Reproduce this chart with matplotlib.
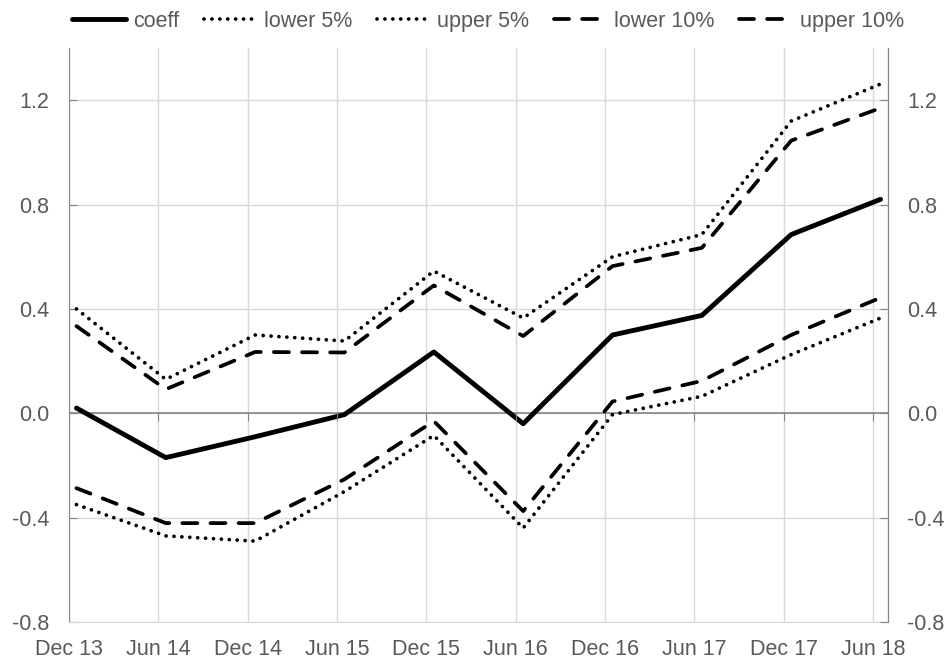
import matplotlib.pyplot as plt
from matplotlib.ticker import FixedLocator

plt.rcParams['font.family'] = ['Liberation Sans', 'DejaVu Sans']

# data
periods = ['Dec 13', 'Jun 14', 'Dec 14', 'Jun 15', 'Dec 15',
           'Jun 16', 'Dec 16', 'Jun 17', 'Dec 17', 'Jun 18']
coeff = [0.02, -0.17, -0.09, -0.005, 0.235, -0.04, 0.30, 0.375, 0.685, 0.82]
lower_5 = [-0.35, -0.47, -0.49, -0.30, -0.085, -0.44, -0.005, 0.065, 0.225, 0.365]
upper_5 = [0.40, 0.13, 0.30, 0.277, 0.545, 0.365, 0.60, 0.685, 1.12, 1.262]
lower_10 = [-0.287, -0.421, -0.421, -0.253, -0.03, -0.375, 0.045, 0.124, 0.30, 0.443]
upper_10 = [0.334, 0.092, 0.235, 0.233, 0.49, 0.296, 0.564, 0.634, 1.045, 1.17]

# months since Dec 13, points sit mid-month
tick_pos = [6 * i for i in range(len(periods))]
x = [t + 0.5 for t in tick_pos]

grey_text = '#595959'
axis_col = '#868686'
grid_col = '#d9d9d9'
fs = 15.5

fig = plt.figure(figsize=(9.5, 6.65), dpi=100)
ax = fig.add_axes([69 / 950, 1 - 622 / 665, (888 - 69) / 950, (622 - 48) / 665])

dot = (0, (0.01, 2.1))
dash = (0, (4.0, 3.5))
ax.plot(x, coeff, color='black', lw=3.5, solid_capstyle='round', label='coeff', zorder=5)
ax.plot(x, lower_5, color='black', lw=2.7, ls=dot, dash_capstyle='round', label='lower 5%', zorder=4)
ax.plot(x, upper_5, color='black', lw=2.7, ls=dot, dash_capstyle='round', label='upper 5%', zorder=4)
ax.plot(x, lower_10, color='black', lw=2.7, ls=dash, dash_capstyle='round', label='lower 10%', zorder=4)
ax.plot(x, upper_10, color='black', lw=2.7, ls=dash, dash_capstyle='round', label='upper 10%', zorder=4)

ax.set_xlim(0, 55)
ax.set_ylim(-0.8, 1.4)
yticks = [-0.8, -0.4, 0.0, 0.4, 0.8, 1.2]
ax.set_yticks(yticks)
ax.set_yticklabels([f'{v:.1f}' for v in yticks])
ax.set_xticks(tick_pos)
ax.set_xticklabels(periods)
ax.xaxis.set_minor_locator(FixedLocator([55]))

ax.grid(True, which='both', axis='x', color=grid_col, lw=1)
ax.grid(True, axis='y', color=grid_col, lw=1)
ax.axhline(0, color=axis_col, lw=1.2, zorder=2)

ax.tick_params(axis='x', length=0, pad=12, labelsize=fs, labelcolor=grey_text)
ax.tick_params(axis='x', which='minor', length=0)
ax.tick_params(axis='y', direction='in', length=6, color=axis_col, pad=14,
               labelsize=fs, labelcolor=grey_text)
for s in ['left', 'right']:
    ax.spines[s].set_color(axis_col)
ax.spines['top'].set_visible(False)
ax.spines['bottom'].set_color(grid_col)

# right-hand axis
ax_r = ax.twinx()
ax_r.set_ylim(ax.get_ylim())
ax_r.set_yticks(yticks)
ax_r.set_yticklabels([f'{v:.1f}' for v in yticks])
ax_r.tick_params(axis='y', direction='in', length=6, color=axis_col, pad=14,
                 labelsize=fs, labelcolor=grey_text)
for s in ['left', 'top', 'bottom']:
    ax_r.spines[s].set_visible(False)
ax_r.spines['right'].set_color(axis_col)

# tick marks on the zero line
ax_z = ax.twiny()
ax_z.set_xlim(ax.get_xlim())
ax_z.spines['bottom'].set_position(('data', 0))
ax_z.xaxis.set_ticks_position('bottom')
ax_z.set_xticks(tick_pos)
ax_z.set_xticklabels([])
ax_z.tick_params(axis='x', direction='out', length=6, color=axis_col)
for s in ['left', 'right', 'top', 'bottom']:
    ax_z.spines[s].set_visible(False)

leg = ax.legend(loc='upper center', bbox_to_anchor=(488 / 950, 1 - 2 / 665),
                bbox_transform=fig.transFigure, ncol=5, frameon=False,
                fontsize=fs, handlelength=2.5, handletextpad=0.3,
                columnspacing=1.15, borderaxespad=0)
for t in leg.get_texts():
    t.set_color(grey_text)

fig.savefig('out.png', dpi=100)
